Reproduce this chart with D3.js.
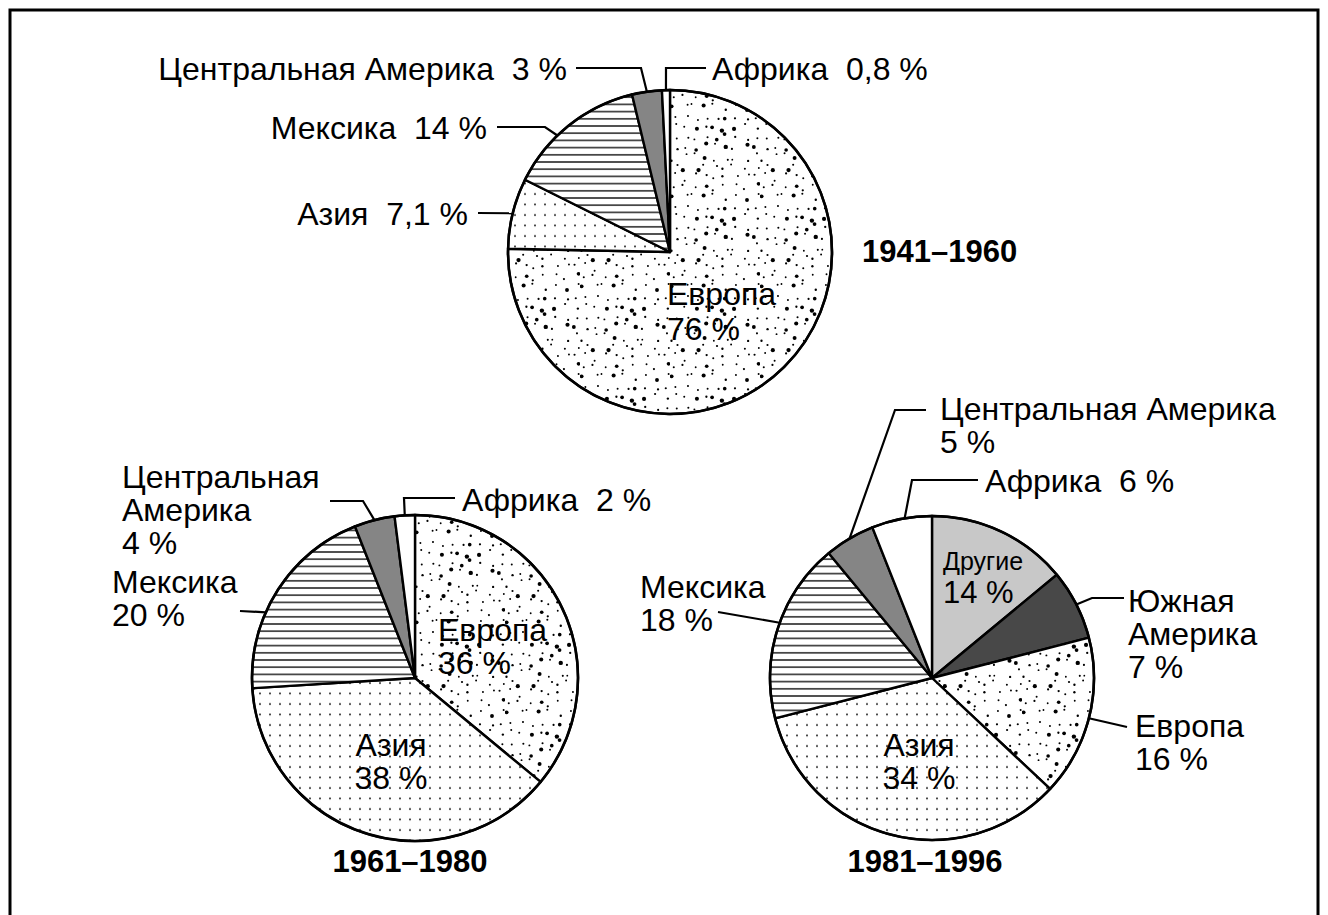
<!DOCTYPE html>
<html>
<head>
<meta charset="utf-8">
<script src="https://cdn.jsdelivr.net/npm/d3@7"></script>
<style>
body { margin: 0; background: #fff; }
text { font-family: "Liberation Sans", Arial, Helvetica, sans-serif; fill: #000; }
</style>
</head>
<body>
<script>
// data
var periods = ["1941–1960", "1961–1980", "1981–1996"]

var regions1 = ["Европа", "Азия", "Мексика", "Центральная Америка", "Африка"]
var shares1 = [76, 7.1, 14, 3, 0.8]

var regions2 = ["Европа", "Азия", "Мексика", "Центральная Америка", "Африка"]
var shares2 = [36, 38, 20, 4, 2]

var regions3 = ["Другие", "Южная Америка", "Европа", "Азия", "Мексика", "Центральная Америка", "Африка"]
var shares3 = [14, 7, 16, 34, 18, 5, 6]

var width = 1328, height = 915
var fontSize = 32

var svg = d3.select("body").append("svg")
  .attr("width", width)
  .attr("height", height)

var defs = svg.append("defs")

// europe: scattered dots of two sizes, laid on a jittered grid so they spread evenly
var rnd = d3.randomLcg(0.4217)
var eu = defs.append("pattern").attr("id", "europe")
  .attr("patternUnits", "userSpaceOnUse")
  .attr("width", 90).attr("height", 90)
eu.append("rect").attr("width", 90).attr("height", 90).attr("fill", "#fff")
for (var gy = 0; gy < 9; gy++) {
  for (var gx = 0; gx < 9; gx++) {
    var big = rnd() < 0.25
    eu.append("circle")
      .attr("cx", gx * 10 + 1 + rnd() * 8).attr("cy", gy * 10 + 1 + rnd() * 8)
      .attr("r", big ? 1.8 + rnd() * 0.4 : 0.9 + rnd() * 0.3)
      .attr("fill", "#000")
  }
}

// asia: fine regular dots
var as = defs.append("pattern").attr("id", "asia")
  .attr("patternUnits", "userSpaceOnUse")
  .attr("width", 10).attr("height", 10.5)
as.append("rect").attr("width", 10).attr("height", 10.5).attr("fill", "#fff")
as.append("circle").attr("cx", 5).attr("cy", 5).attr("r", 0.9).attr("fill", "#000")

// mexico: horizontal hatching
var mx = defs.append("pattern").attr("id", "mexico")
  .attr("patternUnits", "userSpaceOnUse")
  .attr("width", 20).attr("height", 7.2)
mx.append("rect").attr("width", 20).attr("height", 7.2).attr("fill", "#fff")
mx.append("line").attr("x1", 0).attr("x2", 20).attr("y1", 3.6).attr("y2", 3.6)
  .attr("stroke", "#000").attr("stroke-width", 1.3)

var fills = {
  "Европа": "url(#europe)",
  "Азия": "url(#asia)",
  "Мексика": "url(#mexico)",
  "Центральная Америка": "#858585",
  "Африка": "#fff",
  "Другие": "#c8c8c8",
  "Южная Америка": "#484848"
}

// frame
svg.append("rect")
  .attr("x", 10).attr("y", 10)
  .attr("width", 1308).attr("height", 940)
  .attr("fill", "none").attr("stroke", "#000").attr("stroke-width", 3)

// label layout per pie: where each text sits and how its leader bends
var layout1 = {
  cx: 670, cy: 252, r: 162,
  title: {x: 862, y: 262, anchor: "start"},
  labels: {
    "Европа": {x: 667, y: 305, mode: "name", anchor: "start", lh: 35},
    "Азия": {x: 468, y: 225, mode: "inline", anchor: "end", leader: [[478, 213]], t: 0.5},
    "Мексика": {x: 487, y: 139, mode: "inline", anchor: "end", leader: [[497, 127], [545, 127]], t: 0.39},
    "Центральная Америка": {x: 567, y: 80, mode: "inline", anchor: "end", leader: [[576, 68], [641, 68]], t: 0.5},
    "Африка": {x: 712, y: 80, mode: "inline", anchor: "start", leader: [[706, 68], [666, 68]], t: 0.5}
  }
}

var layout2 = {
  cx: 415, cy: 678, r: 163,
  title: {x: 410, y: 872, anchor: "middle"},
  labels: {
    "Европа": {x: 438, y: 641, mode: "name", anchor: "start", lh: 33},
    "Азия": {x: 391, y: 756, mode: "name", anchor: "middle", lh: 33},
    "Мексика": {x: 112, y: 593, mode: "name", anchor: "start", lh: 33, leader: [[240, 611]], t: 0.38},
    "Центральная Америка": {x: 122, y: 488, mode: "words", anchor: "start", lh: 33, leader: [[330, 501], [363, 501]], t: 0.5},
    "Африка": {x: 462, y: 511, mode: "inline", anchor: "start", leader: [[455, 498], [404, 498]], t: 0.5}
  }
}

var layout3 = {
  cx: 932, cy: 678, r: 162,
  title: {x: 925, y: 872, anchor: "middle"},
  labels: {
    "Другие": {x: 943, y: 570, mode: "name", anchor: "start", lh: 33, sizes: [25, 31]},
    "Южная Америка": {x: 1128, y: 612, mode: "words", anchor: "start", lh: 33, leader: [[1124, 598], [1092, 598]], t: 0.5},
    "Европа": {x: 1135, y: 737, mode: "name", anchor: "start", lh: 33, leader: [[1127, 727]], t: 0.5},
    "Азия": {x: 919, y: 756, mode: "name", anchor: "middle", lh: 33},
    "Мексика": {x: 640, y: 598, mode: "name", anchor: "start", lh: 33, leader: [[718, 612]], t: 0.53},
    "Центральная Америка": {x: 940, y: 420, mode: "name", anchor: "start", lh: 33, leader: [[926, 410], [895, 410]], t: 0.5},
    "Африка": {x: 985, y: 492, mode: "inline", anchor: "start", leader: [[978, 480], [912, 480]], t: 0.55}
  }
}

var pct = function(v) { return String(v).replace(".", ",") + "\u00a0%" }

var drawPie = function(regions, shares, title, lay) {
  var items = regions.map(function(d, i) { return {name: d, value: shares[i]} })
  var arcs = d3.pie().sort(null).value(function(d) { return d.value })(items)
  var arc = d3.arc().innerRadius(0).outerRadius(lay.r)

  var g = svg.append("g").attr("transform", "translate(" + lay.cx + "," + lay.cy + ")")

  g.selectAll("path")
    .data(arcs)
    .enter()
    .append("path")
    .attr("d", arc)
    .attr("fill", function(d) { return fills[d.data.name] })
    .attr("stroke", "#000")
    .attr("stroke-width", 2.4)
    .attr("stroke-linejoin", "round")

  g.append("circle").attr("r", lay.r)
    .attr("fill", "none").attr("stroke", "#000").attr("stroke-width", 2.6)

  arcs.forEach(function(a) {
    var spec = lay.labels[a.data.name]
    if (!spec) return
    // leader line ends on the rim of the slice
    if (spec.leader) {
      var ang = a.startAngle + (a.endAngle - a.startAngle) * spec.t
      var edge = [lay.cx + lay.r * Math.sin(ang), lay.cy - lay.r * Math.cos(ang)]
      svg.append("path")
        .attr("d", d3.line()(spec.leader.concat([edge])))
        .attr("fill", "none").attr("stroke", "#000").attr("stroke-width", 2.2)
    }
    var lines
    if (spec.mode == "inline") lines = [a.data.name + "\u00a0\u00a0" + pct(a.data.value)]
    else if (spec.mode == "words") lines = a.data.name.split(" ").concat([pct(a.data.value)])
    else lines = [a.data.name, pct(a.data.value)]

    var t = svg.append("text")
      .attr("text-anchor", spec.anchor)
    lines.forEach(function(s, i) {
      t.append("tspan")
        .attr("x", spec.x)
        .attr("y", spec.y + i * (spec.lh || 33))
        .attr("font-size", spec.sizes ? spec.sizes[i] : fontSize)
        .text(s)
    })
  })

  svg.append("text")
    .attr("x", lay.title.x).attr("y", lay.title.y)
    .attr("text-anchor", lay.title.anchor)
    .attr("font-family", "'Liberation Sans', Arial, sans-serif")
    .attr("font-size", 31)
    .attr("font-weight", 700)
    .text(title)
}

drawPie(regions1, shares1, periods[0], layout1)
drawPie(regions2, shares2, periods[1], layout2)
drawPie(regions3, shares3, periods[2], layout3)
</script>
</body>
</html>
